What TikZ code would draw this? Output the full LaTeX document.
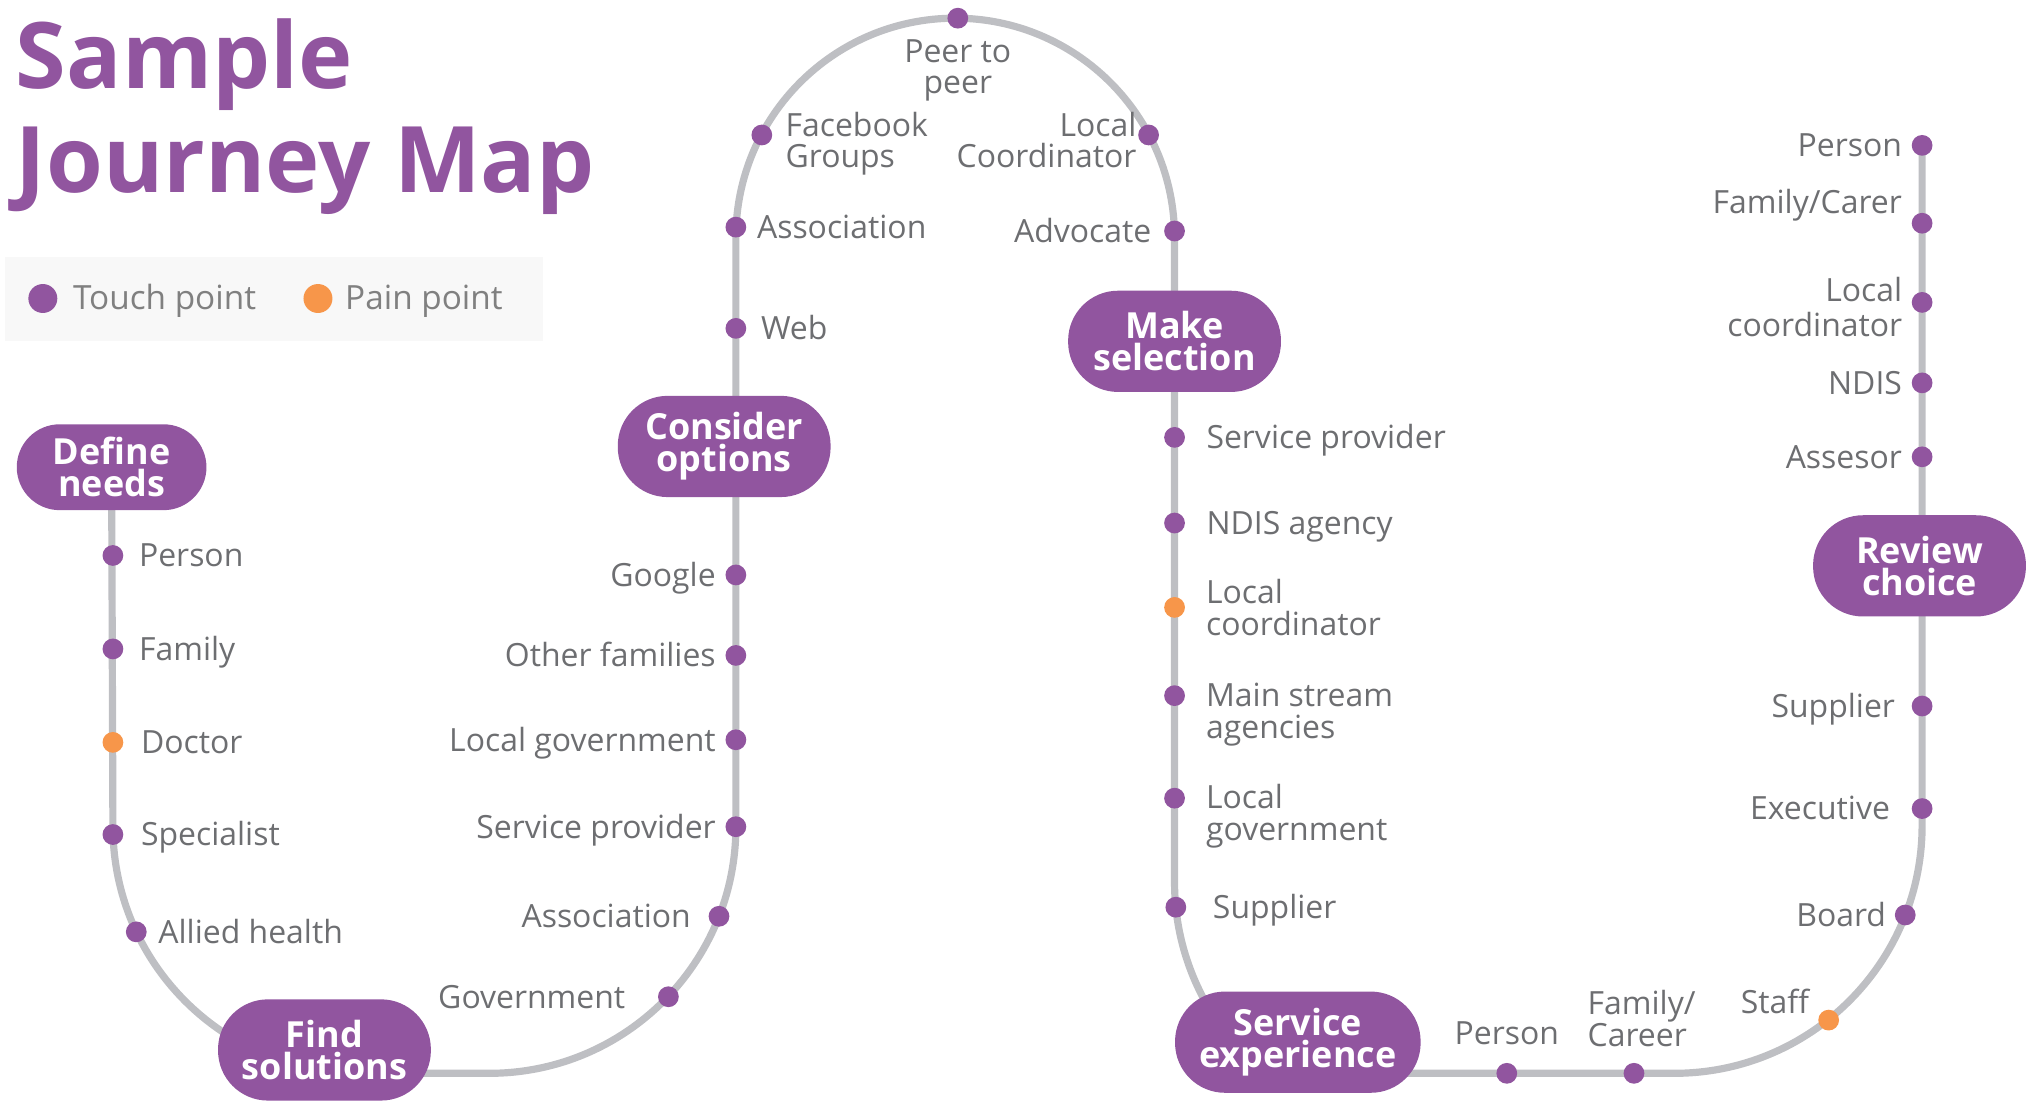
\documentclass[tikz,border=0pt]{standalone}
\usepackage{fontspec}
\setmainfont{Open Sans}
\usetikzlibrary{positioning,backgrounds}

\begin{document}
\begin{tikzpicture}[x=0.65pt,y=-0.65pt]
  % Colors
  \definecolor{stagecolor}{HTML}{91559F}
  \definecolor{paincolor}{HTML}{F7964A}
  \definecolor{trackcolor}{HTML}{BEBFC3}
  \definecolor{labelcolor}{HTML}{6D6E71}
  \definecolor{keycolor}{HTML}{808080}
  \definecolor{legendcolor}{HTML}{F8F8F8}

  % Styles
  \tikzstyle{track}=[line width=3.6pt,draw=trackcolor]
  \tikzstyle{stage}=[fill=stagecolor,text=white,rounded corners=25pt,minimum width=106.6pt,minimum height=50.7pt,inner sep=0pt,align=center,font=\bfseries\fontsize{18}{16}\selectfont]
  \tikzstyle{touch}=[circle,fill=stagecolor,inner sep=0pt,minimum size=10.4pt]
  \tikzstyle{pain}=[touch,fill=paincolor]
  \tikzstyle{stop text}=[text=labelcolor,inner sep=0pt,font=\fontsize{16}{15.8}\selectfont,text height=11.4pt,text depth=0pt]
  \tikzstyle{stop block}=[text=labelcolor,inner sep=0pt,font=\fontsize{16}{15.8}\selectfont]

  \useasboundingbox (0,0) rectangle (1568,850);

  % Title and legend
  \node[anchor=north west,inner sep=0pt,align=left,text=stagecolor,font=\bfseries\fontsize{46}{52}\selectfont] (title) at (12,14) {Sample\\Journey Map};

  \fill[legendcolor] (4,198) rectangle (418,263);
  \node[touch,minimum size=14.5pt] (touchkey) at (33,230) {};
  \node[stop text,text=keycolor,font=\fontsize{16.7}{17}\selectfont,right=7.5pt of touchkey] (touchname) {Touch point};
  \node[pain,minimum size=14.5pt] (painkey) at (245,230) {};
  \node[stop text,text=keycolor,font=\fontsize{16.7}{17}\selectfont,right=6pt of painkey] (painname) {Pain point};

  % Stages
  \node[stage,minimum width=95pt,minimum height=43pt,rounded corners=21.5pt] (define) at (86,360) {Define\\needs};
  \node[stage] (find) at (250,809) {Find\\solutions};
  \node[stage] (consider) at (558,344) {Consider\\options};
  \node[stage] (make) at (905,263) {Make\\selection};
  \node[stage,minimum width=123pt] (service) at (1000,803) {Service\\experience};
  \node[stage] (review) at (1479,436) {Review\\choice};

  % Define needs
  \node[touch] (a1) at (87,428) {};
  \node[touch] (a2) at (87,500) {};
  \node[pain]  (a3) at (87,572) {};
  \node[touch] (a4) at (87,643) {};
  \node[touch] (a5) at (105,718) {};
  \node[stop text,right=7.5pt of a1] (a1t) {Person};
  \node[stop text,right=7.5pt of a2] (a2t) {Family};
  \node[stop text,right=8.5pt of a3] (a3t) {Doctor};
  \node[stop text,right=8.5pt of a4] (a4t) {Specialist};
  \node[stop text,right=5.5pt of a5] (a5t) {Allied health};

  % Find solutions
  \node[touch] (b1) at (515,768) {};
  \node[touch] (b2) at (554,706) {};
  \node[touch] (b3) at (567,637) {};
  \node[touch] (b4) at (567,570) {};
  \node[touch] (b5) at (567,505) {};
  \node[touch] (b6) at (567,443) {};
  \node[stop text,left=16pt of b1] (b1t) {Government};
  \node[stop text,left=8.5pt of b2] (b2t) {Association};
  \node[stop text,left=4.5pt of b3] (b3t) {Service provider};
  \node[stop text,left=4.5pt of b4] (b4t) {Local government};
  \node[stop text,left=4.5pt of b5] (b5t) {Other families};
  \node[stop text,left=4.5pt of b6] (b6t) {Google};

  % Consider options
  \node[touch] (c1) at (567,253) {};
  \node[touch] (c2) at (567,175) {};
  \node[touch] (c3) at (587,104) {};
  \node[touch] (c4) at (738,14) {};
  \node[touch] (c5) at (885,104) {};
  \node[touch] (c6) at (905,178) {};
  \node[stop text,right=7pt of c1] (c1t) {Web};
  \node[stop text,right=5pt of c2] (c2t) {Association};
  \node[stop block,anchor=north west,align=left] (c3t) at (605,86) {Facebook\\Groups};
  \node[stop block,below=5pt of c4,align=center] (c4t) {Peer to\\peer};
  \node[stop block,anchor=north east,align=right] (c5t) at (876,86) {Local\\Coordinator};
  \node[stop text,left=6pt of c6] (c6t) {Advocate};

  % Make selection
  \node[touch] (d1) at (905,337) {};
  \node[touch] (d2) at (905,403) {};
  \node[pain]  (d3) at (905,468) {};
  \node[touch] (d4) at (905,536) {};
  \node[touch] (d5) at (905,615) {};
  \node[touch] (d6) at (906,699) {};
  \node[stop text,right=10.4pt of d1] (d1t) {Service provider};
  \node[stop text,right=10.4pt of d2] (d2t) {NDIS agency};
  \node[stop block,anchor=north west,align=left] (d3t) at (929,446) {Local\\coordinator};
  \node[stop block,anchor=north west,align=left] (d4t) at (929,526) {Main stream\\agencies};
  \node[stop block,anchor=north west,align=left] (d5t) at (929,604) {Local\\government};
  \node[stop text,right=13pt of d6] (d6t) {Supplier};

  % Service experience
  \node[touch] (e1) at (1161,827) {};
  \node[touch] (e2) at (1259,827) {};
  \node[pain]  (e3) at (1409,786) {};
  \node[touch] (e4) at (1468,705) {};
  \node[touch] (e5) at (1481,623) {};
  \node[touch] (e6) at (1481,544) {};
  \node[stop text,above=9pt of e1] (e1t) {Person};
  \node[stop block,anchor=north west,align=left] (e2t) at (1223,763) {Family/\\Career};
  \node[stop text,anchor=west] (e3t) at (1341,772) {Staff};
  \node[stop text,left=4pt of e4] (e4t) {Board};
  \node[stop text,left=10.5pt of e5] (e5t) {Executive};
  \node[stop text,left=8pt of e6] (e6t) {Supplier};

  % Review choice
  \node[touch] (f1) at (1481,112) {};
  \node[touch] (f2) at (1481,172) {};
  \node[touch] (f3) at (1481,233) {};
  \node[touch] (f4) at (1481,295) {};
  \node[touch] (f5) at (1481,352) {};
  \node[stop text,left=4.5pt of f1] (f1t) {Person};
  \node[stop text,left=4.5pt of f2,yshift=10.4pt] (f2t) {Family/Carer};
  \node[stop block,anchor=north east,align=right,font=\fontsize{16}{17.8}\selectfont] (f3t) at (1466,213) {Local\\coordinator};
  \node[stop text,left=4.5pt of f4] (f4t) {NDIS};
  \node[stop text,left=4.5pt of f5] (f5t) {Assesor};

  % The track
  \begin{scope}[on background layer]
    \draw[track] (define.center) -- (87,637) arc[start angle=180,end angle=90,radius=190] -- (find.center);
    \draw[track] (find.center) |- (377,827) arc[start angle=90,end angle=0,radius=190]
      -- (567,0 |- consider.center) -- (567,183) arc[start angle=180,end angle=360,radius=169]
      -- (make.center) -- (905,680) arc[start angle=180,end angle=135,radius=190] -- (service.center);
    \draw[track] (service.center) |- (1290,827) arc[start angle=90,end angle=0,radius=191]
      -- (1481,0 |- review.center) -- (f1.center);
  \end{scope}
\end{tikzpicture}
\end{document}
